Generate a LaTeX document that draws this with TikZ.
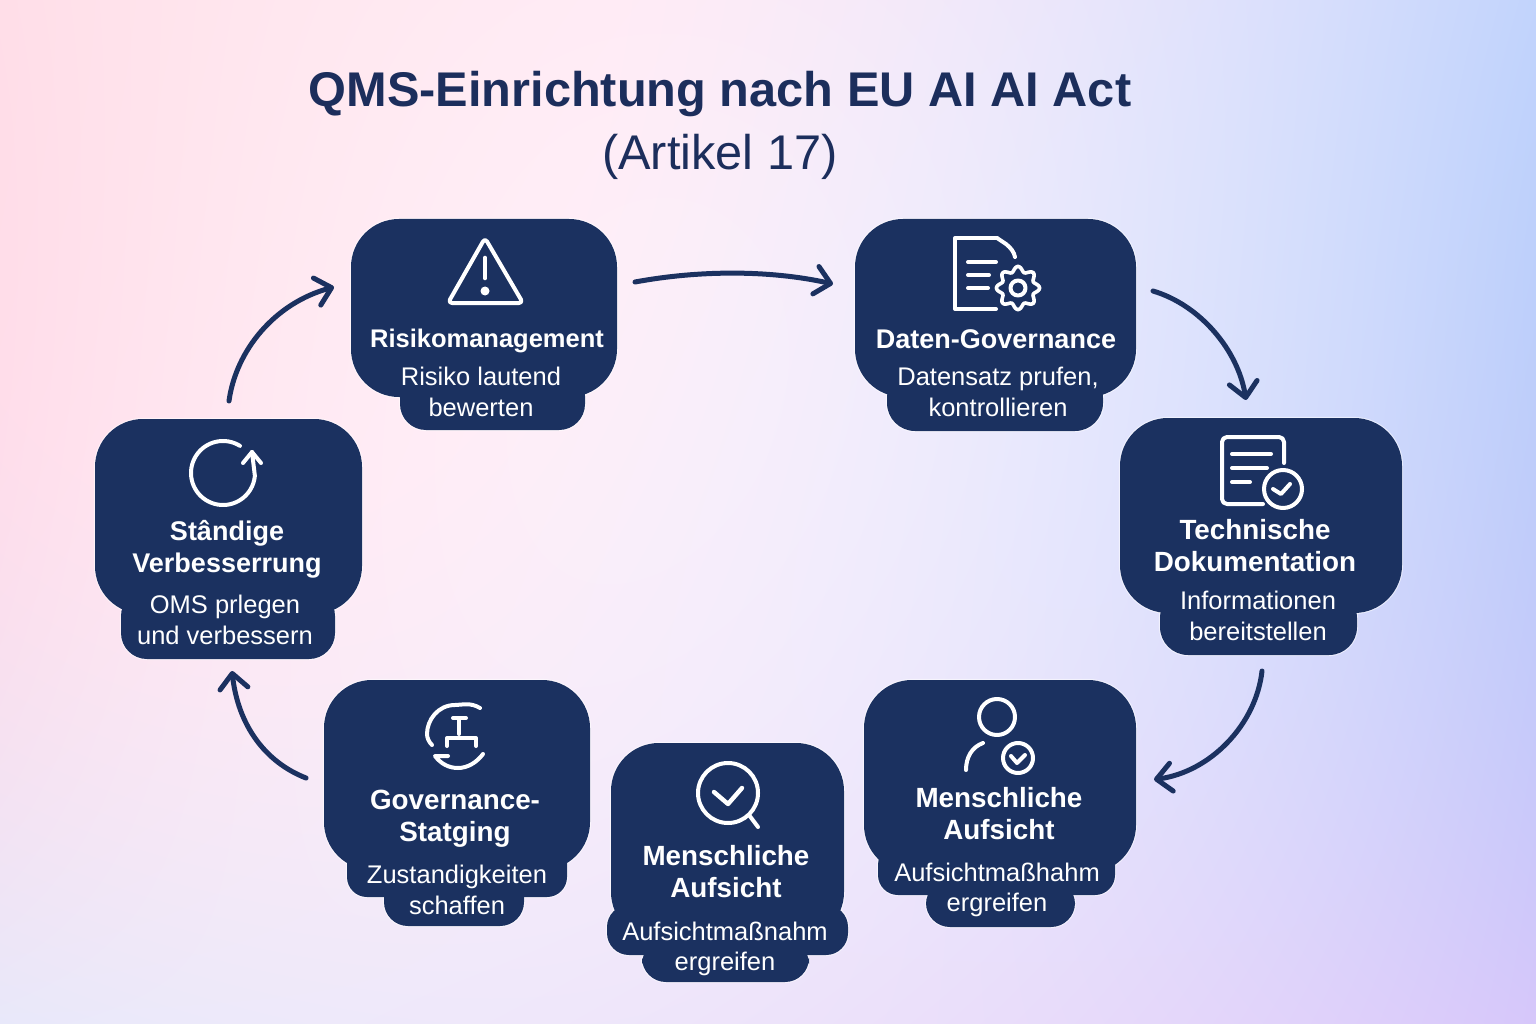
\documentclass[tikz,border=0pt]{standalone}
\usepackage{fontspec}
\setmainfont{Liberation Sans}
\usetikzlibrary{arrows.meta}
\definecolor{navy}{RGB}{27,49,96}
\definecolor{titleblue}{RGB}{28,46,92}
% --- background: biquadratic colour field on a 3x3 control grid
\newcommand\tm[4]{\the\numexpr#1+6-#2\relax\space index \the\numexpr#1+4-#3\relax\space index mul #4 mul add }
\newcommand\rowterms[5]{\tm{#1}{0}{#2}{#3}\tm{#1}{1}{#2}{#4}\tm{#1}{2}{#2}{#5}}
\pgfdeclarefunctionalshading{bgmesh}{\pgfpointorigin}{\pgfpoint{1536pt}{1024pt}}{}{%
 1019.18 div exch 1528.77 div exch
 exch
 dup 0.5 sub 2 mul 1 index 1 sub mul
 1 index dup 1 exch sub mul 4 mul
 2 index dup 0.5 sub mul 2 mul
 5 -1 roll 5 -1 roll pop
 dup 0.5 sub 2 mul 1 index 1 sub mul
 1 index dup 1 exch sub mul 4 mul
 2 index dup 0.5 sub mul 2 mul
 4 -1 roll pop
 0 \rowterms{0}{2}{1.00}{0.98}{0.76}\rowterms{0}{1}{0.99}{0.96}{0.75}\rowterms{0}{0}{0.91}{0.93}{0.84}
 0 \rowterms{1}{2}{0.87}{0.92}{0.83}\rowterms{1}{1}{0.87}{0.93}{0.80}\rowterms{1}{0}{0.91}{0.89}{0.78}
 0 \rowterms{2}{2}{0.91}{0.97}{0.99}\rowterms{2}{1}{0.925}{0.985}{0.98}\rowterms{2}{0}{0.98}{0.98}{0.98}
 9 3 roll pop pop pop pop pop pop
}
\tikzset{
  halo/.style={draw=white,draw opacity=.55,line width=2.2pt},
  bodyshape/.style={fill=navy,draw=none,inner sep=0pt,outer sep=0pt},
  headtxt/.style={text=white,align=center,inner sep=0pt,font=\fontsize{27.8}{32}\selectfont\bfseries},
  subtxt/.style={text=white,align=center,inner sep=0pt,font=\fontsize{25.5}{30.5}\selectfont},
  flow/.style={draw=navy,line width=5pt,line cap=round,-{Straight Barb[length=15pt,width=28pt,round]}},
  ico/.style={draw=white,line width=4pt,line cap=round,line join=round},
  icothin/.style={draw=white,line width=3.6pt,line cap=round,line join=round},
}
% name L T R B r
\newcommand\halorect[6]{\draw[halo,rounded corners=#6pt] (#2,#3) rectangle (#4,#5);}
\newcommand\noderect[6]{\node[bodyshape,rounded corners=#6pt,minimum width={(#4-#2)*1pt},minimum height={(#5-#3)*1pt}] (#1) at ({(#2+#4)/2},{(#3+#5)/2}) {};}
\newcommand\allparts{%
  \pr{risk}{351}{219}{617}{397}{48}\pr{risktab}{400}{370}{585}{430}{26}%
  \pr{daten}{855}{219}{1136}{397}{48}\pr{datentab}{887}{370}{1103}{431}{28}%
  \pr{tech}{1120}{418}{1402}{613}{48}\pr{techtab}{1160}{590}{1357}{655}{28}%
  \pr{stand}{95}{419}{362}{614}{48}\pr{standtab}{121}{590}{335}{659}{26}%
  \pr{gov}{324}{680}{590}{870}{48}\pr{govtaba}{347}{840}{567}{897}{20}\pr{govtabb}{384}{870}{524}{926}{24}%
  \pr{human}{611}{743}{844}{940}{48}\pr{humantaba}{607}{905}{848}{955}{22}\pr{humantabb}{642}{940}{809}{982}{24}%
  \pr{aufs}{864}{680}{1136}{873}{48}\pr{aufstaba}{878}{845}{1115}{895}{20}\pr{aufstabb}{926}{880}{1075}{927}{24}%
}
\begin{document}
\begin{tikzpicture}[x=1pt,y=-1pt]
\node[inner sep=0pt,outer sep=0pt,anchor=north west] (bg) at (0,0) {\pgfuseshading{bgmesh}};
\useasboundingbox (0,0) rectangle (1536,1024);

\node[text=titleblue,align=center,inner sep=0pt,font=\fontsize{48.7}{63}\selectfont] (title) at (720,125)
  {\bfseries QMS-Einrichtung nach EU AI AI Act\\(Artikel 17)};

\let\pr\halorect \allparts
\let\pr\noderect \allparts

% connectors
\draw[flow] ([shift={(18,-26)}]risk.east) .. controls (700,270) and (770,270) .. ([shift={(-22,-24)}]daten.west);
\draw[flow] ([shift={(17,-17)}]daten.east) .. controls (1200,305) and (1238,350) .. ([shift={(-15,-18)}]tech.north);
\draw[flow] ([shift={(3.5,16)}]techtab.south) .. controls (1256,725) and (1210,772) .. ([shift={(18,3)}]aufs.east);
\draw[flow] ([shift={(-18,3)}]gov.west) .. controls (265,762) and (238,725) .. ([shift={(4,12)}]standtab.south);
\draw[flow] ([shift={(0.5,-18)}]stand.north) .. controls (236,350) and (275,303) .. ([shift={(-17,-21)}]risk.west);

% icon: warning
\draw[ico,rounded corners=4pt] (485,238) -- (523,303) -- (448,303) -- cycle;
\draw[ico,line width=4.6pt] (485,258) -- (485,278);
\fill[white] (485,291) circle (4.5);
% icon: document with gear
\draw[ico] (997,238) -- (955,238) -- (955,309) -- (996,309);
\draw[ico] (997,238) -- (1006,244) .. controls (1011,248) and (1014,252) .. (1015,257);
\draw[ico] (968,262) -- (996,262) (968,275) -- (989,275) (968,288) -- (988,288);
\draw[icothin,shift={(1018,288)}] plot[domain=0:360,samples=97,smooth] (\x:{19+2.6*cos(8*\x)}) -- cycle;
\draw[ico] (1018,288) circle (7.5);
% icon: document with check
\draw[ico,rounded corners=5pt] (1263,504) -- (1222,504) -- (1222,437) -- (1284,437) -- (1284,463);
\draw[ico] (1232,454) -- (1271,454) (1232,468) -- (1267,468) (1232,482) -- (1250,482);
\draw[ico] (1283,489) circle (19);
\draw[ico] (1273,489) -- (1281,494) -- (1290,484);
% icon: cycle
\draw[ico] (223,473) ++(-58:32) arc[start angle=-58,end angle=-355,radius=32] -- (252,452);
\draw[ico] (243,463) -- (252,452) -- (261,463);
% icon: governance
\draw[ico] (480,708) .. controls (470,702) and (462,705) .. (455,705) .. controls (438,705) and (427,720) .. (427,734) .. controls (427,738) and (429,742) .. (432,745);
\draw[ico] (448,756) -- (435,756) .. controls (441,764) and (449,768) .. (458,768) .. controls (468,768) and (477,762) .. (483,754);
\draw[ico] (453,718) -- (466,718) (459,718) -- (459,734);
\draw[ico] (447,746) -- (447,738) -- (476,738) -- (476,746);
% icon: magnifier
\draw[ico] (728,793) circle (30);
\draw[ico] (749,815) -- (758,827);
\draw[ico,line width=4.4pt] (714,792) -- (728,804) -- (742,788);
% icon: person
\draw[ico] (997,717) circle (18);
\draw[ico] (983,743) .. controls (972,747) and (966,757) .. (966,770);
\draw[ico] (1018,758) circle (15);
\draw[ico] (1011,756) -- (1017,763) -- (1025,755);

% texts
\node[headtxt,font=\fontsize{25.5}{32}\selectfont\bfseries] (t1) at (487,341) {Risikomanagement};
\node[subtxt] (s1) at (481,392) {Risiko lautend\\bewerten};
\node[headtxt,font=\fontsize{27}{32}\selectfont\bfseries] (t2) at (996,339) {Daten-Governance};
\node[subtxt] (s2) at (998,392) {Datensatz prufen,\\kontrollieren};
\node[headtxt] (t3) at (1255,546) {Technische\\Dokumentation};
\node[subtxt] (s3) at (1258,616) {Informationen\\bereitstellen};
\node[headtxt,font=\fontsize{27}{32}\selectfont\bfseries] (t4) at (227,549) {Stândige\\Verbesserrung};
\node[subtxt] (s4) at (225,620) {OMS prlegen\\und verbessern};
\node[headtxt] (t5) at (455,819) {Governance-\\Statging};
\node[subtxt] (s5) at (457,890) {Zustandigkeiten\\schaffen};
\node[headtxt] (t6) at (726,872) {Menschliche\\Aufsicht};
\node[subtxt] (s6) at (725,949) {Aufsichtmaßnahm\\ergreifen};
\node[headtxt] (t7) at (999,814) {Menschliche\\Aufsicht};
\node[subtxt] (s7) at (997,890) {Aufsichtmaßhahm\\ergreifen};
\end{tikzpicture}
\end{document}
